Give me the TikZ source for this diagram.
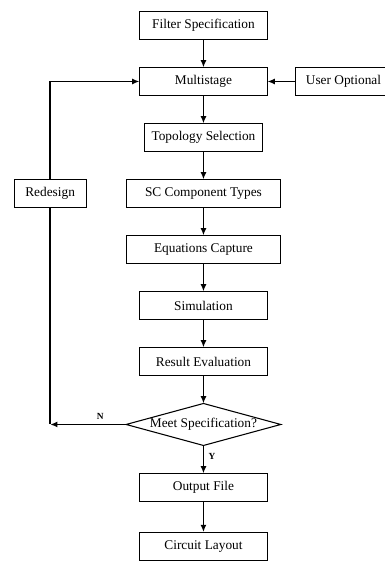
\documentclass[tikz,border=0pt]{standalone}
\usepackage{fontspec}
\setmainfont{Liberation Serif}
\usetikzlibrary{shapes, arrows.meta, positioning}

\begin{document}
\begin{tikzpicture}[node distance=21pt, every node/.style={align=center, font=\fontsize{10}{12}\selectfont},
  box/.style={draw, line width=0.8pt, outer sep=0pt, minimum width=96pt, minimum height=21pt},
  decision/.style={draw, diamond, line width=0.8pt, outer sep=0pt, aspect=3.7, inner sep=0pt, minimum width=116pt, minimum height=31.5pt},
  arr/.style={-{Latex[length=5.5pt, width=4.5pt]}, line width=1.1pt},
  tag/.style={font=\fontsize{7}{8}\selectfont\bfseries}]

  \useasboundingbox (0,0) rectangle (288.75pt,-421.5pt);

  % Main column
  \node (filterspec) [box] at (152.6pt,-19.1pt) {Filter Specification};
  \node (multistage) [box, below=of filterspec] {Multistage};
  \node (topology) [box, minimum width=88.5pt, below=of multistage] {Topology Selection};
  \node (sctypes) [box, minimum width=116pt, below=of topology] {SC Component Types};
  \node (equations) [box, minimum width=116pt, below=of sctypes] {Equations Capture};
  \node (simulation) [box, below=of equations] {Simulation};
  \node (evaluation) [box, below=of simulation] {Result Evaluation};
  \node (meetspec) [decision, below=of evaluation] {Meet Specification?};
  \node (outputfile) [box, below=of meetspec] {Output File};
  \node (layout) [box, below=23pt of outputfile] {Circuit Layout};

  % Side boxes
  \node (useropt) [box, minimum width=72pt, right=of multistage] {User Optional};
  \node (redesign) [box, minimum width=54pt, left=30pt of sctypes] {Redesign};
  \coordinate (nocorner) at (meetspec.west -| redesign.south);

  % Arrows down the column
  \draw[arr] (filterspec) -- (multistage);
  \draw[arr] (multistage) -- (topology);
  \draw[arr] (topology) -- (sctypes);
  \draw[arr] (sctypes) -- (equations);
  \draw[arr] (equations) -- (simulation);
  \draw[arr] (simulation) -- (evaluation);
  \draw[arr] (evaluation) -- (meetspec);
  \draw[arr] (meetspec) -- node[tag, right, pos=0.4] {Y} (outputfile);
  \draw[arr] (outputfile) -- (layout);

  % Feedback loop and user input
  \draw[arr] (useropt) -- (multistage);
  \draw[arr] (meetspec.west) -- node[tag, above, pos=0.34] {N} (nocorner);
  \draw[line width=1.1pt] (redesign.south) -- (nocorner);
  \draw[arr] (redesign.north) |- (multistage.west);

\end{tikzpicture}
\end{document}
